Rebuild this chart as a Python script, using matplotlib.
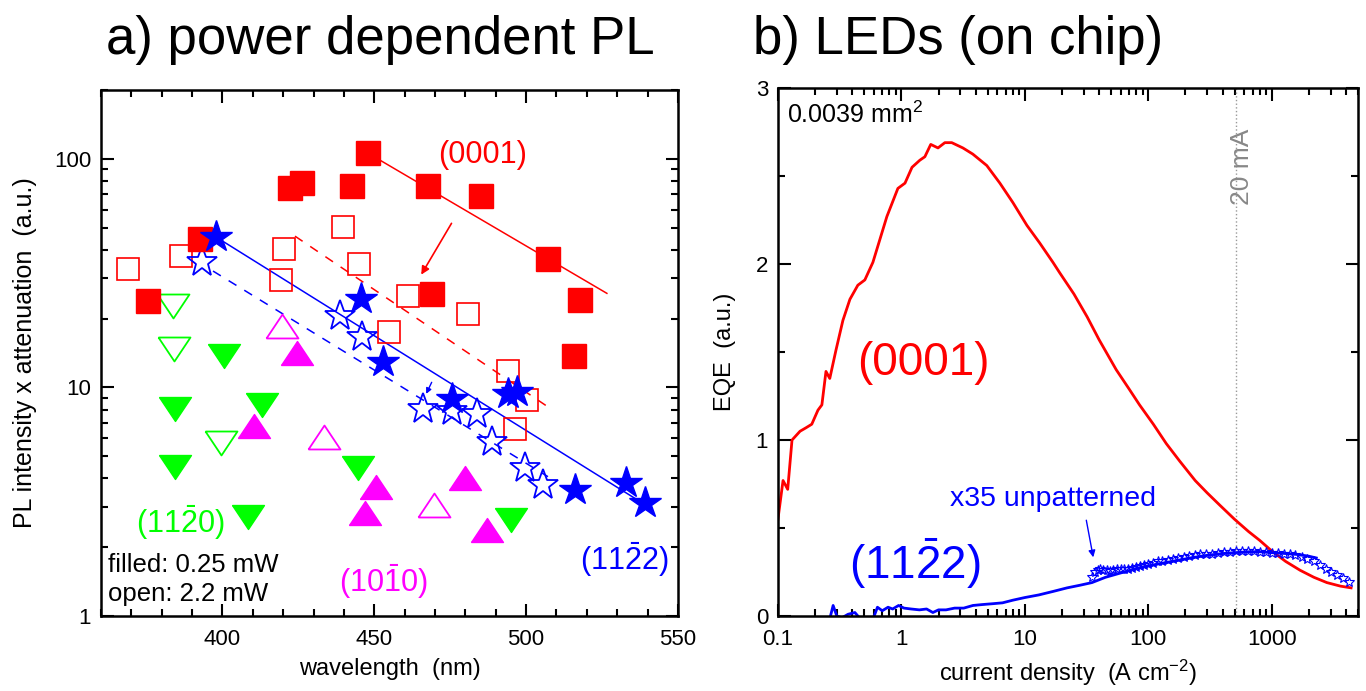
import numpy as np
import matplotlib.pyplot as plt
from matplotlib.ticker import MultipleLocator, LogLocator, NullFormatter

plt.rcParams['font.family'] = 'Liberation Sans'
plt.rcParams['mathtext.fontset'] = 'custom'
plt.rcParams['mathtext.rm'] = 'Liberation Sans'
plt.rcParams['mathtext.it'] = 'Liberation Sans:italic'
plt.rcParams['mathtext.bf'] = 'Liberation Sans:bold'

# ---- a) power dependent PL : wavelength (nm) vs PL intensity x attenuation ----
# (0001) c-plane
c_fill_wl = [392.6, 375.5, 422.2, 426.2, 442.6, 447.9, 467.7, 485.1, 469.0, 507.2, 517.7, 515.7]
c_fill_pl = [44.6, 23.8, 74.6, 78.5, 76.2, 106, 76.2, 68.9, 25.6, 36.4, 24.1, 13.7]
c_open_wl = [368.9, 386.3, 420.3, 419.3, 439.7, 445.0, 454.8, 461.1, 480.8, 494.0, 500.3, 496.3]
c_open_pl = [32.9, 37.5, 40.3, 29.5, 50.3, 34.6, 17.4, 25.1, 20.9, 11.8, 8.77, 6.61]
c_fit_wl = [447.9, 526.6]
c_fit_pl = [106, 25.8]
c_fit2_wl = [423.9, 507.5]
c_fit2_pl = [45.9, 8.17]

# (11-22) semipolar
s_fill_wl = [397.9, 445.6, 452.9, 475.6, 494.0, 497.0, 516.1, 532.9, 539.1]
s_fill_pl = [45.5, 24.3, 12.9, 8.86, 9.32, 9.51, 3.57, 3.83, 3.13]
s_open_wl = [393.3, 438.7, 445.9, 466.0, 475.6, 483.8, 488.7, 499.6, 505.5]
s_open_pl = [35.3, 20.5, 16.6, 8.01, 7.85, 7.62, 5.80, 4.46, 3.75]
s_fit_wl = [397.9, 536.5]
s_fit_pl = [45.5, 3.23]
s_fit2_wl = [396.9, 507.2]
s_fit2_pl = [32.3, 4.07]

# (11-20) a-plane
a_fill_wl = [400.5, 384.4, 413.0, 384.4, 408.4, 444.6, 495.0]
a_fill_pl = [13.7, 8.01, 8.42, 4.50, 2.72, 4.46, 2.64]
a_open_wl = [383.7, 384.0, 399.5]
a_open_pl = [22.7, 14.7, 5.74]

# (10-10) m-plane
m_fill_wl = [424.5, 410.4, 450.5, 446.9, 479.9, 487.1]
m_fill_pl = [14.2, 6.81, 3.68, 2.83, 4.03, 2.38]
m_open_wl = [419.6, 433.4, 469.6]
m_open_pl = [18.5, 6.04, 3.07]

# ---- b) LEDs on chip : current density vs EQE ----
c_led_j = [0.1, 0.11, 0.12, 0.13, 0.151, 0.169, 0.188, 0.211, 0.227, 0.245,
           0.263, 0.295, 0.336, 0.383, 0.444, 0.506, 0.588, 0.763, 0.937, 1.07,
           1.22, 1.41, 1.55, 1.73, 1.98, 2.25, 2.56, 3.15, 3.79, 4.92,
           6.28, 8.0, 10.4, 13.2, 16.9, 19.2, 25, 32, 40, 55,
           70, 85, 110, 140, 180, 240, 300, 380, 500, 650,
           800, 1000, 1300, 1700, 2200, 2800, 3600, 4400]
c_led_eqe = [0.55, 0.77, 0.72, 1.0, 1.05, 1.07, 1.09, 1.17, 1.2, 1.39,
             1.35, 1.51, 1.68, 1.8, 1.88, 1.91, 2.01, 2.27, 2.43, 2.46,
             2.55, 2.59, 2.61, 2.68, 2.66, 2.69, 2.69, 2.66, 2.625, 2.56,
             2.46, 2.35, 2.22, 2.12, 2.01, 1.95, 1.83, 1.70, 1.57, 1.40,
             1.29, 1.20, 1.09, 0.98, 0.88, 0.77, 0.70, 0.63, 0.55, 0.48,
             0.43, 0.37, 0.31, 0.26, 0.22, 0.19, 0.17, 0.16]

s_led_j = [0.26, 0.28, 0.30, 0.33, 0.37, 0.42, 0.47, 0.52, 0.58, 0.64,
           0.70, 0.78, 0.85, 0.95, 1.05, 1.2, 1.4, 1.6, 1.8, 2.0,
           2.3, 2.7, 3.2, 3.8, 4.5, 5.5, 6.6, 8.0, 10, 13,
           17, 22, 28, 35, 45, 60, 80, 100, 130, 170,
           220, 300, 400, 500, 650, 800, 1000, 1300, 1600, 2000, 2300]
s_led_eqe = [-0.03, 0.06, 0.0, -0.01, 0.01, 0.02, -0.02, -0.02, -0.03, 0.05,
             0.03, 0.05, 0.04, 0.06, 0.045, 0.04, 0.035, 0.04, 0.02, 0.035,
             0.035, 0.045, 0.045, 0.06, 0.065, 0.07, 0.075, 0.09, 0.105, 0.12,
             0.14, 0.16, 0.175, 0.19, 0.22, 0.245, 0.27, 0.285, 0.30, 0.315,
             0.33, 0.345, 0.355, 0.36, 0.365, 0.365, 0.36, 0.355, 0.35, 0.34, 0.33]

# unpatterned reference, scaled x35
ref_j = [35, 37, 39, 41, 43, 46, 49, 52, 56, 60,
         64, 69, 74, 80, 86, 93, 100, 110, 120, 130,
         145, 160, 175, 195, 215, 240, 265, 295, 330, 370,
         410, 460, 510, 570, 640, 720, 800, 900, 1000, 1120,
         1250, 1400, 1550, 1750, 1950, 2200, 2450, 2750, 3050, 3400, 3800, 4200]
ref_eqe = [0.22, 0.25, 0.26, 0.265, 0.26, 0.26, 0.255, 0.26, 0.265, 0.265,
           0.27, 0.27, 0.275, 0.28, 0.285, 0.29, 0.295, 0.30, 0.31, 0.315,
           0.32, 0.325, 0.33, 0.335, 0.34, 0.345, 0.35, 0.355, 0.355, 0.36,
           0.365, 0.365, 0.37, 0.37, 0.37, 0.37, 0.365, 0.365, 0.36, 0.36,
           0.355, 0.35, 0.345, 0.335, 0.325, 0.31, 0.29, 0.27, 0.25, 0.235, 0.215, 0.195]

j_20mA = 513  # 20 mA on 0.0039 mm2

RED = '#ff0000'
BLUE = '#0000ff'
GREEN = '#00ff00'
MAG = '#ff00ff'

# wide, flat triangles
tri_down = [(-1, 0.75), (1, 0.75), (0, -0.75), (-1, 0.75)]
tri_up = [(-1, -0.75), (1, -0.75), (0, 0.75), (-1, -0.75)]

fig = plt.figure(figsize=(13.66, 6.91), dpi=100)

ax1 = fig.add_axes([0.0739, 0.1085, 0.4224, 0.7612])
ax1.set_yscale('log')

# fits
ax1.plot(c_fit_wl, c_fit_pl, '-', color=RED, lw=1.1)
ax1.plot(c_fit2_wl, c_fit2_pl, '--', color=RED, lw=1.1, dashes=(6, 6))
ax1.plot(s_fit_wl, s_fit_pl, '-', color=BLUE, lw=1.1)
ax1.plot(s_fit2_wl, s_fit2_pl, '--', color=BLUE, lw=1.1, dashes=(6, 6))

# open symbols (2.2 mW)
ax1.plot(c_open_wl, c_open_pl, 's', ms=16.5, mfc='none', mec=RED, mew=1.2, ls='none')
ax1.plot(a_open_wl, a_open_pl, marker=tri_down, ms=23, mfc='none', mec=GREEN, mew=1.3, ls='none')
ax1.plot(m_open_wl, m_open_pl, marker=tri_up, ms=23, mfc='none', mec=MAG, mew=1.3, ls='none')
ax1.plot(s_open_wl, s_open_pl, '*', ms=23, mfc='none', mec=BLUE, mew=1.3, ls='none')

# filled symbols (0.25 mW)
ax1.plot(c_fill_wl, c_fill_pl, 's', ms=17, color=RED, mec=RED, ls='none')
ax1.plot(a_fill_wl, a_fill_pl, marker=tri_down, ms=23, color=GREEN, ls='none')
ax1.plot(m_fill_wl, m_fill_pl, marker=tri_up, ms=23, color=MAG, ls='none')
ax1.plot(s_fill_wl, s_fill_pl, '*', ms=24, color=BLUE, ls='none')

ax1.annotate('', xy=(465.0, 30.4), xytext=(475.9, 53.5),
             arrowprops=dict(arrowstyle='-|>', color=RED, lw=1.2, mutation_scale=12))
ax1.annotate('', xy=(466.7, 9.14), xytext=(469.3, 10.8),
             arrowprops=dict(arrowstyle='-|>', color=BLUE, lw=1.0, mutation_scale=8))

ax1.text(485.5, 104, '(0001)', color=RED, fontsize=22, ha='center', va='center')
ax1.text(386.0, 2.56, r'(11$\bar{\mathrm{2}}$0)', color=GREEN, fontsize=22, ha='center', va='center')
ax1.text(452.9, 1.41, r'(10$\bar{\mathrm{1}}$0)', color=MAG, fontsize=22, ha='center', va='center')
ax1.text(532.2, 1.76, r'(11$\bar{\mathrm{2}}$2)', color=BLUE, fontsize=22, ha='center', va='center')
ax1.text(0.013, 0.097, 'filled: 0.25 mW', transform=ax1.transAxes, fontsize=18.5, va='center')
ax1.text(0.013, 0.042, 'open: 2.2 mW', transform=ax1.transAxes, fontsize=18.5, va='center')

ax1.set_xlim(360, 550)
ax1.set_ylim(1, 200)
ax1.xaxis.set_major_locator(MultipleLocator(50))
ax1.xaxis.set_minor_locator(MultipleLocator(10))
ax1.set_yticks([1, 10, 100])
ax1.set_yticklabels(['1', '10', '100'])
ax1.yaxis.set_minor_locator(LogLocator(base=10, subs=np.arange(2, 10)))
ax1.yaxis.set_minor_formatter(NullFormatter())
ax1.set_xlabel('wavelength  (nm)', fontsize=17, labelpad=6)
ax1.set_ylabel('PL intensity x attenuation  (a.u.)', fontsize=18, labelpad=12)

# ---- b) panel ----
ax2 = fig.add_axes([0.5695, 0.1085, 0.4246, 0.764])
ax2.set_xscale('log')
ax2.axvline(j_20mA, color='#999999', ls=':', lw=1.0)
ax2.plot(c_led_j, c_led_eqe, '-', color=RED, lw=2.0)
ax2.plot(s_led_j, s_led_eqe, '-', color=BLUE, lw=2.0)
ax2.plot(ref_j, ref_eqe, '*', ms=7, mfc='none', mec=BLUE, mew=0.8, ls='none')

ax2.annotate('', xy=(36.2, 0.318), xytext=(31.2, 0.56),
             arrowprops=dict(arrowstyle='-|>', color=BLUE, lw=1.0, mutation_scale=10))
ax2.text(0.016, 0.975, r'0.0039 mm$^2$', transform=ax2.transAxes, fontsize=18, va='top')
ax2.text(575, 2.55, '20 mA', color='#888888', fontsize=19, rotation=90, ha='center', va='center')
ax2.text(1.52, 1.44, '(0001)', color=RED, fontsize=33, ha='center', va='center')
ax2.text(1.29, 0.30, r'(11$\bar{\mathrm{2}}$2)', color=BLUE, fontsize=33, ha='center', va='center')
ax2.text(16.9, 0.665, 'x35 unpatterned', color=BLUE, fontsize=20.5, ha='center', va='center')

ax2.set_xlim(0.1, 5000)
ax2.set_ylim(0, 3)
ax2.set_xticks([0.1, 1, 10, 100, 1000])
ax2.set_xticklabels(['0.1', '1', '10', '100', '1000'])
ax2.xaxis.set_minor_locator(LogLocator(base=10, subs=np.arange(2, 10)))
ax2.xaxis.set_minor_formatter(NullFormatter())
ax2.yaxis.set_major_locator(MultipleLocator(1))
ax2.yaxis.set_minor_locator(MultipleLocator(0.5))
ax2.set_xlabel(r'current density  (A cm$^{-2}$)', fontsize=17, labelpad=6)
ax2.set_ylabel('EQE  (a.u.)', fontsize=17, labelpad=14)

for ax in (ax1, ax2):
    ax.tick_params(which='both', direction='in', top=True, right=True, width=1.5, labelsize=16)
    ax.tick_params(which='major', length=9)
    ax.tick_params(which='minor', length=5)
    ax.tick_params(axis='x', pad=9)
    ax.tick_params(axis='y', pad=7)
    for sp in ax.spines.values():
        sp.set_linewidth(1.8)

fig.text(380 / 1366, 1 - 40 / 691, 'a) power dependent PL', fontsize=38, ha='center', va='center')
fig.text(958 / 1366, 1 - 40 / 691, 'b) LEDs (on chip)', fontsize=38, ha='center', va='center')

fig.savefig('out.png', dpi=100)
